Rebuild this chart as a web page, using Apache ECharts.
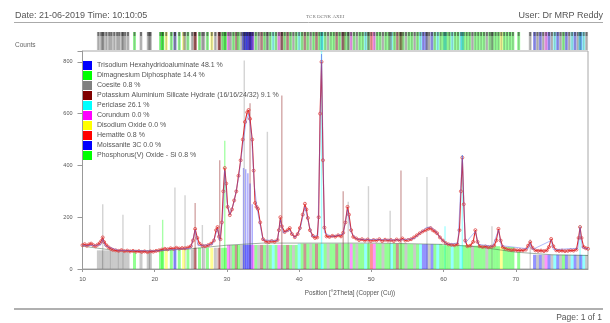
<!DOCTYPE html>
<html><head><meta charset="utf-8">
<script src="https://cdn.jsdelivr.net/npm/echarts@6/dist/echarts.min.js"></script>
<style>html,body{margin:0;padding:0;background:#fff;}#c{width:610px;height:323px;}</style>
</head><body><div id="c"></div>
<script>
const phaseNames = [
  'Trisodium Hexahydridoaluminate 48.1 %',
  'Dimagnesium Diphosphate 14.4 %',
  'Coesite 0.8 %',
  'Potassium Aluminium Silicate Hydrate (16/16/24/32) 9.1 %',
  'Periclase 26.1 %',
  'Corundum 0.0 %',
  'Disodium Oxide 0.0 %',
  'Hematite 0.8 %',
  'Moissanite 3C 0.0 %',
  'Phosphorus(V) Oxide - Si 0.8 %'
];
const phaseColors = ['#0000ff','#00ff00','#808080','#800000','#00ffff','#ff00ff','#ffff00','#ff0000','#0000ff','#00ff00'];

// reference sticks below the background: [2theta, phase, height]
const bandSticks = [
  [12.2,2,72],[12.6,2,72],[12.9,2,72],[13.3,2,72],[13.7,2,72],[14.0,2,72],[14.4,2,72],[14.8,2,72],[15.1,2,72],[15.5,2,72],[15.9,2,72],[16.3,2,72],
  [17.2,9,70],[18.1,2,70],[19.1,2,70],[19.4,2,70],
  [20.8,9,76],[21.1,1,76],[21.6,6,76],[22.3,9,76],[22.8,8,76],[23.4,1,76],[24.0,6,76],[24.6,9,76],[25.2,2,76],
  [25.6,3,82],[26.2,1,82],[26.8,2,82],[27.3,9,82],[27.9,6,82],[28.4,2,82],[28.9,3,82],[29.4,1,82],[29.8,1,82],
  [30.2,5,93],[30.5,2,93],[30.9,1,93],[31.3,3,93],[31.6,9,93],[32.0,2,93],[32.4,0,93],[32.8,8,93],[33.2,0,93],[33.6,5,93],
  [34.0,1,93],[34.4,2,93],[34.8,3,93],[35.2,1,93],[35.6,2,93],[36.0,9,93],[36.4,4,93],[36.8,1,93],[37.2,5,93],[37.6,2,93],
  [38.0,1,93],[38.4,3,93],[38.8,9,93],[39.2,2,93],[39.6,1,93],
  [40.0,4,98],[40.4,1,98],[40.8,3,98],[41.2,9,98],[41.6,2,98],[42.0,1,98],[42.4,3,98],[42.8,1,98],[43.2,4,98],[43.6,9,98],
  [44.0,2,98],[44.4,1,98],[44.8,9,98],[45.2,3,98],[45.6,1,98],[46.0,2,98],[46.4,9,98],[46.8,1,98],[47.2,5,98],[47.6,1,98],
  [48.0,2,98],[48.4,9,98],[48.8,1,98],[49.2,4,98],[49.6,9,98],[50.0,7,98],
  [50.4,5,98],[50.8,1,98],[51.2,9,98],[51.6,2,98],[52.0,1,98],[52.4,9,98],[52.8,4,98],[53.2,1,98],[53.6,3,98],[54.0,9,98],
  [54.4,1,98],[54.8,2,98],[55.2,9,96],[55.6,1,96],[56.0,2,96],[56.4,9,96],[56.8,4,96],[57.2,0,96],[57.6,8,96],[58.0,2,96],
  [58.4,0,96],[58.8,1,96],[59.2,4,96],[59.6,9,96],
  [60.0,1,92],[60.4,9,92],[60.8,1,92],[61.2,4,92],[61.6,9,92],[62.0,1,92],[62.4,4,92],[62.8,1,92],[63.2,9,92],[63.6,1,92],
  [64.0,2,90],[64.4,9,90],[64.8,1,90],[65.2,9,90],[65.6,1,90],[66.0,2,90],[66.4,9,88],[66.8,1,88],[67.2,9,88],[67.6,1,88],
  [68.0,6,85],[68.4,9,85],[68.8,1,85],[69.2,9,85],[69.6,1,85],
  [70.4,9,65],
  [72.6,8,55],[73.0,2,55],[73.4,0,55],[73.8,2,55],[74.2,5,55],[74.6,8,55],[75.0,2,55],[75.4,4,55],[75.8,0,55],[76.2,2,55],
  [76.6,9,55],[77.0,8,55],[77.4,2,55],[77.8,4,55],[78.2,0,55],[78.6,2,55],[79.0,8,55],[79.4,4,55],[79.8,2,55]
];

// taller reference sticks: [2theta, phase, height]
const tallSticks = [
  [12.8,2,250],[15.6,2,210],[19.3,2,170],[21.1,9,190],[22.8,2,315],[24.2,2,285],[25.6,3,255],[26.6,2,170],
  [29.0,3,420],[29.7,1,495],[32.3,0,390],[32.4,2,805],[32.6,0,385],[32.9,0,370],[33.2,3,640],[33.2,8,330],[33.5,0,250],
  [35.6,2,530],[37.6,3,670],[43.1,4,842],[46.1,3,300],[46.8,2,260],[49.6,2,320],[52.6,2,225],[54.1,3,380],
  [57.7,2,355],[60.2,4,165],[62.6,4,440],[66.7,2,165],[72.0,2,115],[78.9,4,170]
];

// measured pattern [2theta, counts]
const measured = [
  [10.0,92],[10.3,96],[10.6,90],[10.9,95],[11.2,98],[11.5,92],[11.8,88],[12.1,94],[12.4,100],[12.6,108],[12.8,122],[13.0,104],
  [13.3,92],[13.6,84],[13.9,78],[14.2,74],[14.6,72],[15.0,70],[15.4,73],[15.8,69],[16.2,71],[16.6,68],[17.0,70],[17.4,67],
  [17.8,69],[18.2,66],[18.6,68],[19.0,65],[19.4,68],[19.8,67],[20.2,70],[20.6,72],[21.0,75],[21.4,78],[21.8,76],[22.2,80],
  [22.6,78],[23.0,82],[23.4,79],[23.8,81],[24.2,80],[24.6,83],[25.0,88],[25.3,110],[25.6,155],[25.9,120],[26.2,98],[26.6,90],
  [27.0,88],[27.4,92],[27.8,98],[28.2,110],[28.5,150],[28.7,162],[28.9,125],[29.1,115],[29.3,180],[29.5,300],[29.7,390],
  [29.9,330],[30.1,240],[30.4,208],[30.7,230],[31.0,265],[31.3,300],[31.6,360],[31.9,420],[32.2,500],[32.5,568],[32.8,605],
  [33.0,614],[33.2,580],[33.5,500],[33.7,380],[33.9,255],[34.1,240],[34.3,232],[34.6,180],[35.0,115],[35.4,106],[35.8,104],
  [36.2,108],[36.6,105],[37.0,112],[37.2,150],[37.4,200],[37.6,165],[38.0,143],[38.4,150],[38.7,158],[39.0,135],[39.4,123],
  [39.8,135],[40.1,158],[40.5,210],[40.8,252],[41.0,230],[41.2,197],[41.5,150],[41.9,128],[42.2,120],[42.5,122],[42.7,200],
  [42.9,600],[43.1,800],[43.3,420],[43.5,160],[43.8,126],[44.2,124],[44.6,128],[45.0,125],[45.4,130],[45.8,126],[46.1,140],
  [46.4,180],[46.7,240],[46.9,210],[47.2,150],[47.5,124],[47.9,118],[48.3,112],[48.7,115],[49.1,110],[49.5,114],[49.9,108],
  [50.3,112],[50.7,110],[51.1,115],[51.5,108],[51.9,113],[52.3,110],[52.7,112],[53.1,108],[53.5,114],[53.9,110],[54.3,118],
  [54.7,110],[55.1,112],[55.5,115],[55.9,122],[56.3,130],[56.7,138],[57.1,145],[57.5,150],[57.9,155],[58.2,158],[58.5,150],
  [58.8,145],[59.1,138],[59.5,122],[59.9,110],[60.3,100],[60.7,95],[61.1,93],[61.5,92],[61.9,95],[62.2,150],[62.4,300],
  [62.6,430],[62.8,250],[63.0,110],[63.3,88],[63.7,90],[64.1,105],[64.4,150],[64.7,105],[65.0,88],[65.4,85],[65.8,87],
  [66.2,84],[66.6,86],[67.0,90],[67.3,110],[67.6,155],[67.9,110],[68.2,85],[68.6,78],[69.0,75],[69.4,73],[69.8,74],
  [70.2,72],[70.6,73],[71.0,72],[71.4,75],[71.7,90],[72.0,104],[72.3,82],[72.7,72],[73.1,70],[73.5,71],[73.9,69],[74.3,72],
  [74.6,85],[74.9,116],[75.2,88],[75.6,72],[76.0,70],[76.4,71],[76.8,69],[77.2,70],[77.6,72],[78.0,71],[78.4,75],[78.7,120],
  [78.9,162],[79.1,120],[79.4,85],[79.7,80],[80.0,78]
];

// calculated profile
const calculated = [
  [10,90],[12.5,92],[12.8,115],[13.1,90],[15,72],[20,70],[25,80],[25.6,150],[26.0,90],[28,95],[28.7,155],[29.0,110],
  [29.4,200],[29.7,380],[30.0,260],[30.4,210],[31.0,260],[31.6,350],[32.2,480],[32.6,560],[33.0,600],[33.4,520],[33.8,320],
  [34.2,230],[34.6,170],[35.0,112],[37.0,110],[37.4,190],[37.8,140],[38.7,150],[39.4,120],[40.1,150],[40.8,240],[41.2,190],
  [41.8,125],[42.6,130],[43.1,830],[43.5,140],[44.5,125],[46.1,135],[46.7,230],[47.2,140],[48.0,115],[54.0,112],[56.0,118],
  [56.8,140],[57.6,160],[58.2,162],[58.8,150],[59.6,118],[60.5,96],[62.0,100],[62.6,440],[63.0,100],[64.4,145],[64.8,95],
  [66.8,88],[67.6,150],[68.0,90],[71.7,78],[72.0,100],[72.3,75],[74.9,110],[75.2,75],[78.6,80],[78.9,160],[79.2,82],[80,78]
];

// background line
const background = [[10,88],[15,70],[20,70],[25,78],[30,92],[35,100],[40,100],[50,100],[55,98],[60,95],[65,85],[70,65],[75,55],[80,52]];

const X_MIN = 10, X_MAX = 80, Y_MAX = 842;

function mainStick(params, api) {
  const x = api.value(0), h = api.value(1), kind = api.value(2);
  const p0 = api.coord([x, 0]);
  const p1 = api.coord([x, h]);
  const w = kind ? 1.4 : 3;
  return {
    type: 'rect',
    shape: { x: p0[0] - w / 2, y: p1[1], width: w, height: p0[1] - p1[1] },
    style: { fill: api.visual('color'), opacity: kind ? 0.35 : 0.42 }
  };
}
function stripStick(params, api) {
  const x = api.value(0), ph = api.value(1);
  const p0 = api.coord([x, 0]);
  const p1 = api.coord([x, 1]);
  return {
    type: 'group',
    children: [
      { type: 'rect', shape: { x: p0[0] - 1.5, y: p1[1], width: 3, height: p0[1] - p1[1] },
        style: { fill: phaseColors[ph], opacity: 0.4 } },
      { type: 'rect', shape: { x: p0[0] - 0.75, y: p1[1], width: 1.5, height: p0[1] - p1[1] },
        style: { fill: '#444', opacity: 0.25 } },
      { type: 'rect', shape: { x: p0[0] - 1, y: p1[1], width: 2, height: 4 },
        style: { fill: '#222', opacity: 0.45 } }
    ]
  };
}

const series = [];
phaseNames.forEach((name, k) => {
  const d = bandSticks.filter(s => s[1] === k).map(s => [s[0], s[2], 0])
    .concat(tallSticks.filter(s => s[1] === k).map(s => [s[0], s[2], 1]));
  series.push({
    type: 'custom', name: name, xAxisIndex: 0, yAxisIndex: 0,
    itemStyle: { color: phaseColors[k] },
    encode: { x: 0, y: 1 }, data: d, renderItem: mainStick, silent: true, clip: true, z: 2
  });
});
series.push({
  type: 'line', name: 'background', data: background, xAxisIndex: 0, yAxisIndex: 0,
  showSymbol: false, lineStyle: { color: '#3a5a40', width: 0.8, opacity: 0.6 }, z: 3, silent: true
});
series.push({
  type: 'line', name: 'measured', data: measured, xAxisIndex: 0, yAxisIndex: 0,
  symbol: 'circle', symbolSize: 3, showAllSymbol: true,
  itemStyle: { color: 'rgba(255,255,255,0)', borderColor: '#e04848', borderWidth: 0.8 },
  lineStyle: { color: '#e02828', width: 1.1 }, z: 4, silent: true
});
series.push({
  type: 'line', name: 'calculated', data: calculated, xAxisIndex: 0, yAxisIndex: 0,
  showSymbol: false, lineStyle: { color: '#5566ee', width: 0.7, opacity: 0.65 }, z: 5, silent: true
});
series.push({
  type: 'custom', name: 'strip', xAxisIndex: 1, yAxisIndex: 1,
  data: bandSticks.map(s => [s[0], s[1]]).concat(tallSticks.map(s => [s[0], s[1]])),
  encode: { x: 0, y: 1 }, renderItem: stripStick, silent: true, clip: true
});

const font = 'Liberation Sans, Arial, sans-serif';
const chart = echarts.init(document.getElementById('c'), null, { renderer: 'canvas' });
chart.setOption({
  animation: false,
  backgroundColor: '#fff',
  grid: [
    { left: 82.5, right: 22, top: 51, bottom: 54, show: true, borderColor: '#a8a8a8', borderWidth: 1, backgroundColor: 'transparent' },
    { left: 82.5, right: 22, top: 32, height: 18, show: false }
  ],
  xAxis: [
    { type: 'value', gridIndex: 0, min: X_MIN, max: X_MAX, interval: 10,
      axisLine: { onZero: false, lineStyle: { color: '#999' } },
      axisTick: { show: true, length: 3, lineStyle: { color: '#999' } },
      axisLabel: { fontSize: 6, color: '#555', margin: 7, fontFamily: font, showMaxLabel: false },
      splitLine: { show: false } },
    { type: 'value', gridIndex: 1, min: X_MIN, max: X_MAX, show: false }
  ],
  yAxis: [
    { type: 'value', gridIndex: 0, min: 0, max: Y_MAX, interval: 200,
      axisLine: { show: true, lineStyle: { color: '#999' } },
      axisTick: { show: true, length: 5, lineStyle: { color: '#999' } },
      axisLabel: { fontSize: 5.5, color: '#555', margin: 10, fontFamily: font,
        formatter: v => (v % 200 === 0 ? String(v) : '') },
      splitLine: { show: false } },
    { type: 'value', gridIndex: 1, min: 0, max: 1, show: false }
  ],
  legend: {
    data: phaseNames, orient: 'vertical', left: 83, top: 61, padding: 0,
    icon: 'rect', itemWidth: 9, itemHeight: 9, itemGap: 1, selectedMode: false,
    textStyle: { fontSize: 7, color: '#555', fontFamily: font }
  },
  graphic: [
    { type: 'text', left: 15, top: 11, style: { text: 'Date: 21-06-2019 Time: 10:10:05', fontSize: 9, fill: '#555', fontFamily: font } },
    { type: 'text', left: 306, top: 14, style: { text: 'TCR DCNK AXEI', fontSize: 5, fill: '#777', fontFamily: 'Liberation Serif, serif' } },
    { type: 'text', right: 7, top: 11, style: { text: 'User: Dr MRP Reddy', fontSize: 9, fill: '#555', fontFamily: font } },
    { type: 'line', shape: { x1: 14, y1: 22.5, x2: 603, y2: 22.5 }, style: { stroke: '#aaa', lineWidth: 1 } },
    { type: 'text', left: 15, top: 42, style: { text: 'Counts', fontSize: 6.5, fill: '#666', fontFamily: font } },
    { type: 'text', x: 350, y: 293, style: { text: 'Position [°2Theta] (Copper (Cu))', fontSize: 6.3, fill: '#555', fontFamily: font, align: 'center', verticalAlign: 'middle' } },
    { type: 'line', shape: { x1: 14, y1: 309, x2: 603, y2: 309 }, style: { stroke: '#b0b0b0', lineWidth: 2 } },
    { type: 'text', right: 8, top: 313, style: { text: 'Page: 1 of 1', fontSize: 8.5, fill: '#555', fontFamily: font } }
  ],
  series: series
});
</script>
</body></html>
